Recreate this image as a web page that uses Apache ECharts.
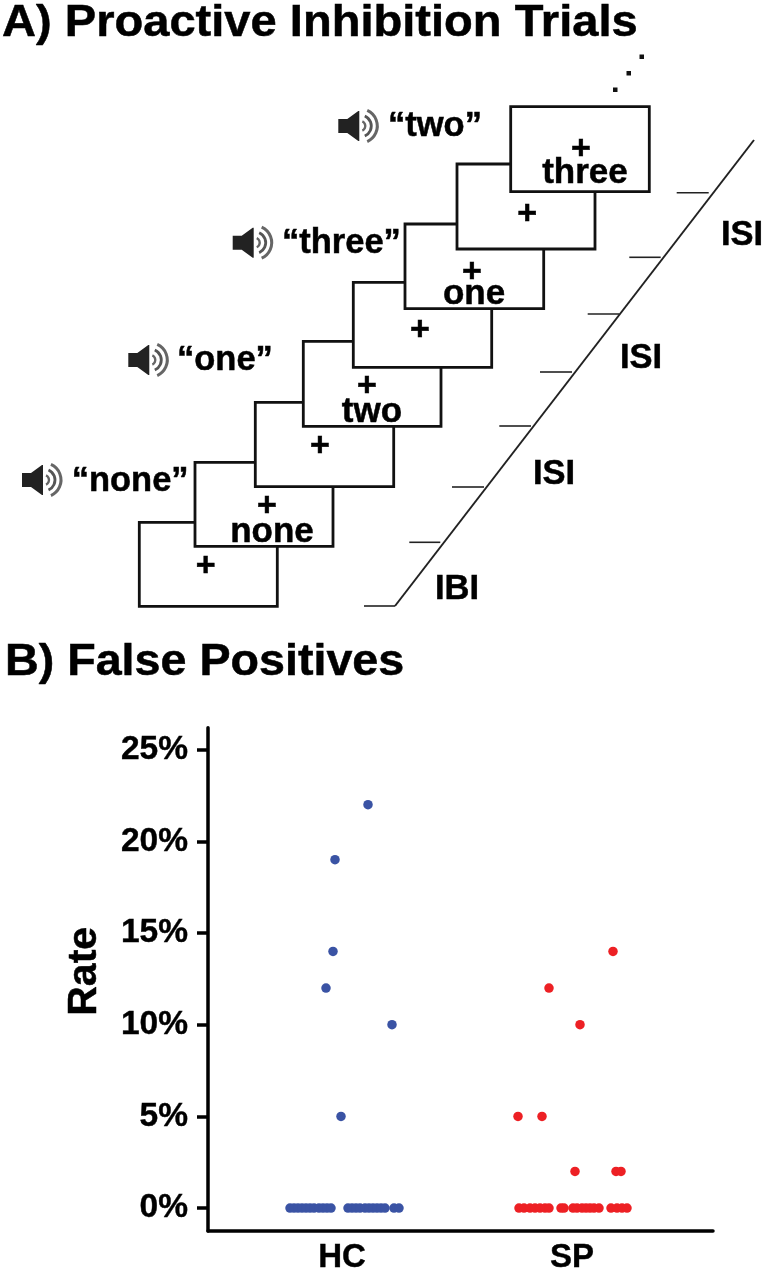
<!DOCTYPE html>
<html><head><meta charset="utf-8">
<style>html,body{margin:0;padding:0;background:#fff}#c{width:763px;height:1270px}</style>
<script src="https://cdn.jsdelivr.net/npm/echarts@6/dist/echarts.min.js"></script>
</head><body><div id="c"></div>
<script>
// ---- chart data ----
const groups = ['HC', 'SP'];
const groupCentres = [100, 330];
const yTicks = [0, 5, 10, 15, 20, 25];
const hcX = [126,93,91,84,150,99, 48,52,56,60,64,68,72,77,81,85,89, 106,110,114,118,123,127,131,135,139,143,152,157];
const hcRate = [22,19,14,12,10,5, 0,0,0,0,0,0,0,0,0,0,0, 0,0,0,0,0,0,0,0,0,0,0,0];
const spX = [371,307,338,276,300,333,374,379, 277,282,288,293,298,303,307, 319,322, 331,335,340,344,348,352,357, 369,375,380,385];
const spRate = [14,12,10,5,5,2,2,2, 0,0,0,0,0,0,0, 0,0, 0,0,0,0,0,0,0, 0,0,0,0];

// ---- schematic labels ----
const stimulusWords = ['none','two','one','three'];
const spokenWords = ['“none”','“one”','“three”','“two”'];

const FONT = '"Liberation Sans", Arial, sans-serif';
function txt(s, x, base, size, align, sx) {
  return {type:'text', x:x, y:base-0.25*size, scaleX:sx||1, z:10,
    style:{text:s, x:0, y:0, fill:'#000', stroke:'#000', lineWidth:0.5, font:'bold '+size+'px '+FONT, align:align||'left', verticalAlign:'middle'}};
}
function box(l,t,r,b){return {type:'rect', z:1, shape:{x:l,y:t,width:r-l,height:b-t}, style:{fill:'#fff',stroke:'#111',lineWidth:2.8}};}
function seg(x1,y1,x2,y2,w,c){return {type:'line', z:2, shape:{x1,y1,x2,y2}, style:{stroke:c||'#222',lineWidth:w||1.6}};}
function speaker(x,cy){
  const cx=x+22;
  const arc=(r,w,c)=>({type:'arc', z:3, shape:{cx:cx,cy:cy,r:r,startAngle:-1.15,endAngle:1.15}, style:{stroke:c,fill:null,lineWidth:w}});
  return {type:'group', children:[
    {type:'polygon', z:3, shape:{points:[[x,cy-7],[x+9,cy-7],[x+20,cy-15],[x+21,cy-15],[x+21,cy+15],[x+20,cy+15],[x+9,cy+7],[x,cy+7]]}, style:{fill:'#222'}},
    arc(5,2.4,'#666'), arc(11,2.8,'#555'), arc(17,3,'#666')
  ]};
}
const pluses=[[205.7,564.3],[267,504.3],[320,445],[367,385],[420,328.7],[472,270.7],[527.3,212.7],[581,148]];
const graphics=[
  box(139.3,522.3,277.3,606.3), box(195,462.3,333,546.3), box(255.3,402.3,393.7,486.7),
  box(303.3,341.3,441,426.3), box(353.3,282.3,491.7,367.3), box(405,224,543.7,308.7),
  box(457,164,595,249), box(510.7,106.7,649.3,191.7),
  seg(395,606,754,140,2),
  seg(364,606,395,606), seg(409.3,542.3,440.3,542.3), seg(452,487,484,487), seg(499.3,426,531,426),
  seg(540,372,572,372), seg(587.7,314,619.3,314), seg(629.3,257.3,660.7,257.3), seg(676.7,192.7,708.7,192.7),
  {type:'rect',z:2,shape:{x:613,y:87.5,width:4.5,height:4.5},style:{fill:'#111'}},
  {type:'rect',z:2,shape:{x:626.5,y:71,width:4.5,height:4.5},style:{fill:'#111'}},
  {type:'rect',z:2,shape:{x:639.5,y:54.5,width:4.5,height:4.5},style:{fill:'#111'}},
  speaker(22,480), speaker(128.3,360), speaker(232.7,242.7), speaker(338.3,126),
  txt('A) Proactive Inhibition Trials',2,35,44.5,'left',1.058),
  txt('B) False Positives',5,674,44,'left',1.06),
  txt(stimulusWords[0],272,541,35,'center'),
  txt(stimulusWords[1],372,421,35,'center'),
  txt(stimulusWords[2],474,303,35,'center'),
  txt(stimulusWords[3],585,182,35,'center'),
  txt(spokenWords[0],71.7,490,34.5),
  txt(spokenWords[1],177,369.3,34.5),
  txt(spokenWords[2],282,251.7,34.5),
  txt(spokenWords[3],388,135,34.5),
  txt('IBI',435,598.3,34.5), txt('ISI',533,483,34.5), txt('ISI',620,367,34.5), txt('ISI',721,244,34.5)
].concat(pluses.map(p=>txt('+',p[0],p[1]+10.5,34,'center')));

const chart=echarts.init(document.getElementById('c'),null,{renderer:'canvas'});
const axisLine={onZero:false,lineStyle:{color:'#000',width:3.5}};
chart.setOption({
  animation:false,
  backgroundColor:'#fff',
  graphic:{elements:graphics},
  grid:{left:208,top:727.7,width:505,height:503.3,outerBoundsMode:'none'},
  xAxis:{type:'value',min:-34,max:471,splitLine:{show:false},axisLine:axisLine,
    axisTick:{show:false},
    axisLabel:{customValues:groupCentres,margin:10,color:'#000',fontFamily:FONT,fontWeight:'bold',fontSize:33,textBorderColor:'#000',textBorderWidth:0.4,
      formatter:v=>groups[groupCentres.indexOf(v)]}},
  yAxis:{type:'value',min:-1.25,max:26.2,splitLine:{show:false},axisLine:axisLine,
    name:'Rate',nameLocation:'middle',nameGap:103,nameRotate:90,nameMoveOverlap:false,
    nameTextStyle:{color:'#000',fontFamily:FONT,fontWeight:'bold',fontSize:41,padding:[0,0,0,16],textBorderColor:'#000',textBorderWidth:0.5},
    axisTick:{customValues:yTicks,length:11,lineStyle:{color:'#000',width:3.5}},
    axisLabel:{customValues:yTicks,margin:20,padding:[2,0,0,0],color:'#000',fontFamily:FONT,fontWeight:'bold',fontSize:33.5,textBorderColor:'#000',textBorderWidth:0.4,formatter:v=>v+'%'}},
  series:[
    {type:'scatter',name:groups[0],symbolSize:9.5,itemStyle:{color:'#3a53a4',opacity:1},data:hcX.map((x,i)=>[x,hcRate[i]])},
    {type:'scatter',name:groups[1],symbolSize:9.5,itemStyle:{color:'#ed2024',opacity:1},data:spX.map((x,i)=>[x,spRate[i]])}
  ]
});
</script></body></html>
